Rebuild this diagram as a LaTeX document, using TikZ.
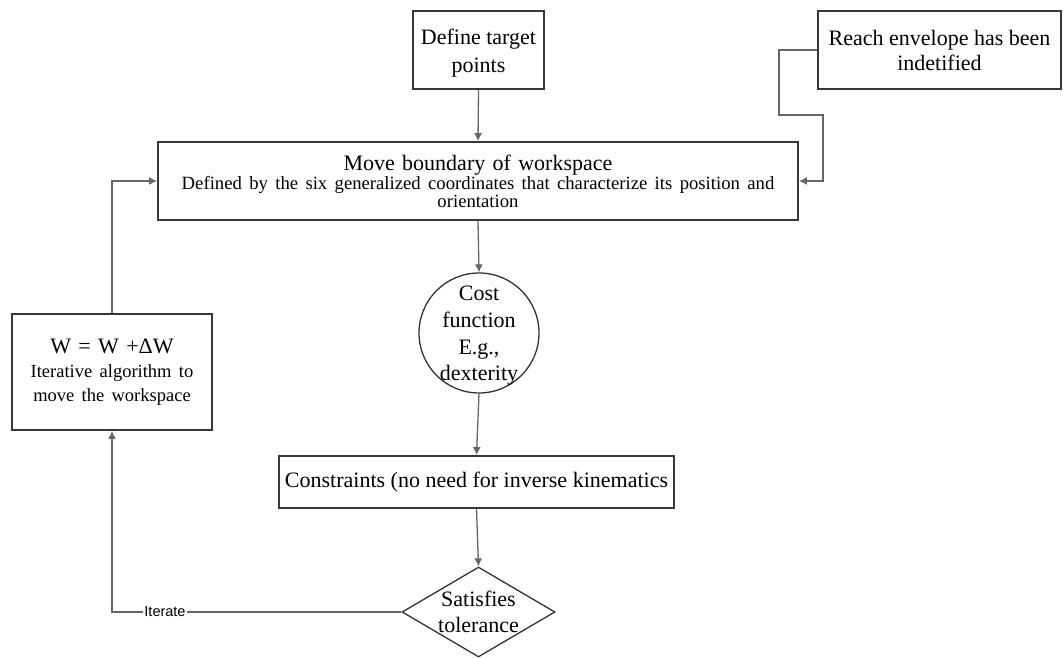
\documentclass[tikz,border=0pt]{standalone}
\usepackage{fontspec}
\setmainfont{Liberation Serif}
\newfontfamily\labelsans{Liberation Sans}
\usetikzlibrary{arrows.meta,shapes.geometric}

\tikzset{
  box/.style={draw=black!78, line width=1.8pt, fill=white, inner sep=2pt,
              align=center, font=\fontsize{22}{28}\selectfont},
  link/.style={draw=black!60, line width=1.3pt,
               -{Latex[length=8pt,width=8pt]}},
  txt/.style={align=center, inner sep=0pt},
}

\begin{document}
\begin{tikzpicture}[x=1pt,y=-1pt]
\useasboundingbox (0,0) rectangle (1063,658);

% process boxes
\node[box, minimum width=131pt, minimum height=78pt, text height=49pt] (def) at (478.5,50)
  {Define target\\points};
\node[box, minimum width=243pt, minimum height=78pt,
      font=\fontsize{22}{25}\selectfont] (reach) at (939.5,50)
  {Reach envelope has been\\indetified};
\node[box, minimum width=640pt, minimum height=78pt, text width=630pt] (move) at (478,181)
  {{\fontsize{22}{19}\selectfont Move boundary of workspace\par}
   \fontsize{18.7}{17.8}\selectfont Defined by the six generalized coordinates that characterize its position and\\orientation\par\vspace{11pt}};
\node[box, minimum width=200pt, minimum height=116pt, text width=195pt] (lft) at (112,372)
  {{\fontsize{22}{24}\selectfont W = W +ΔW\par}
   \fontsize{18.5}{24}\selectfont Iterative algorithm to\\move the workspace\par\vspace{-7pt}};
\node[box, minimum width=395pt, minimum height=52pt] (cons) at (476.5,482)
  {Constraints (no need for inverse kinematics};

% cost function circle
\node[circle, draw=black!80, line width=1.3pt, minimum size=120pt, inner sep=0pt] (cost) at (479,333) {};
\node[txt, font=\fontsize{22}{26.7}\selectfont, yshift=-3pt] (costtext) at (cost.center)
  {Cost\\function\\E.g.,\\dexterity};

% tolerance decision
\node[diamond, draw=black!80, line width=1.3pt, minimum width=153pt, minimum height=90pt,
      inner sep=0pt] (sat) at (478.5,612) {};
\node[txt, font=\fontsize{22}{26}\selectfont] (sattext) at (sat.center)
  {Satisfies\\tolerance};

% connectors
\draw[link] (def.south) -- (move.north);
\draw[link] (reach.west) -- ++(-38,0) -- ++(0,65) -- ++(44,0) |- (move.east);
\draw[link] (lft.north) |- (move.west);
\draw[link] (move.south) -- (cost.north);
\draw[link] (cost.south) -- (cons.north);
\draw[link] (cons.south) -- (sat.north);
\draw[link] (sat.west) -| (lft.south);
\node[fill=white, inner sep=1pt, font=\labelsans\fontsize{14.5}{15}\selectfont] (iter) at (165,612) {Iterate};

\end{tikzpicture}
\end{document}
